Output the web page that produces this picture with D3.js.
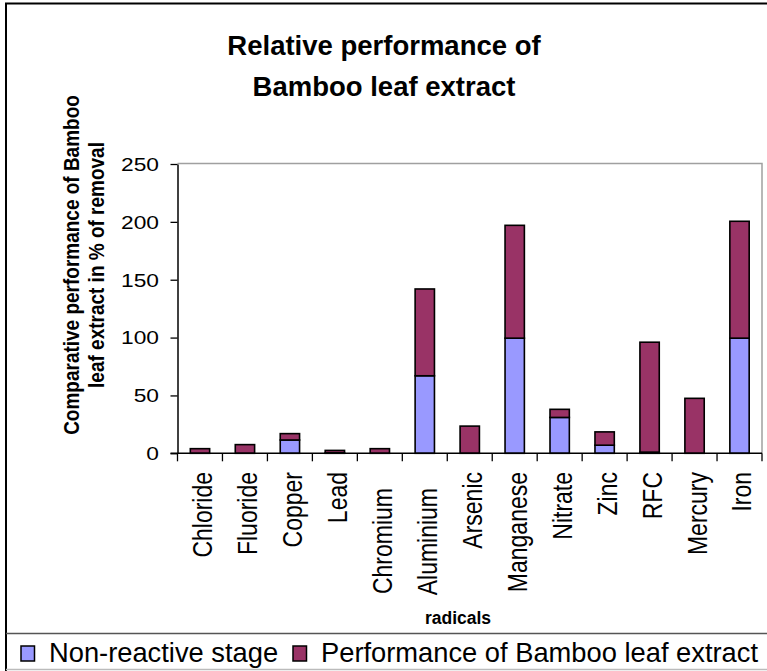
<!DOCTYPE html>
<html>
<head>
<meta charset="utf-8">
<script src="https://cdn.jsdelivr.net/npm/d3@7"></script>
<style>
  html, body { margin: 0; padding: 0; background: #fff; }
  svg { display: block; font-family: "Liberation Sans", Arial, sans-serif; }
</style>
</head>
<body>
<svg id="chart" width="767" height="671"></svg>
<script>
// ---- data ----
const categories = ["Chloride","Fluoride","Copper","Lead","Chromium","Aluminium","Arsenic","Manganese","Nitrate","Zinc","RFC","Mercury","Iron"];
const nonReactive = [0, 0, 11.5, 0.5, 0, 67, 0, 99.5, 31, 7, 1, 0, 99.5];
const performance = [4, 7.5, 5.5, 2, 4, 75, 23.5, 97.5, 7, 11.5, 95, 47.5, 101];
const seriesNames = ["Non-reactive stage", "Performance of Bamboo leaf extract"];
const yTicks = [0, 50, 100, 150, 200, 250];
const titleLines = ["Relative performance of", "Bamboo leaf extract"];
const yTitleLines = ["Comparative performance of Bamboo", "leaf extract in % of removal"];
const xTitle = "radicals";

// ---- styles ----
const colors = ["#9999FF", "#993366"];
const svg = d3.select("#chart");
svg.append("rect").attr("width", 767).attr("height", 671).attr("fill", "#fff");

// outer chart border
svg.append("rect").attr("x", 6).attr("y", 3.5).attr("width", 800).attr("height", 700)
  .attr("fill", "none").attr("stroke", "#000").attr("stroke-width", 2);

const plot = { left: 177.5, right: 762, top: 164, bottom: 453.3 };

const x = d3.scaleBand().domain(categories).range([plot.left, plot.right]).padding(0);
const y = d3.scaleLinear().domain([0, 250]).range([plot.bottom, plot.top]);

// plot area border (top & right)
svg.append("path")
  .attr("d", `M${plot.left},${plot.top - 0.5}H${plot.right}V${plot.bottom}`)
  .attr("fill", "none").attr("stroke", "#a0a0a0").attr("stroke-width", 1.5);

// stacked data
const stackData = categories.map((c, i) => ({ cat: c, s0: nonReactive[i], s1: performance[i] }));
const stack = d3.stack().keys(["s0", "s1"])(stackData);

const barW = x.bandwidth() * 0.43;
svg.append("g").selectAll("g").data(stack).join("g")
  .attr("fill", (d, i) => colors[i])
  .selectAll("rect").data(d => d).join("rect")
  .filter(d => d[1] - d[0] > 0)
  .attr("x", d => x(d.data.cat) + (x.bandwidth() - barW) / 2)
  .attr("y", d => y(d[1]))
  .attr("width", barW)
  .attr("height", d => y(d[0]) - y(d[1]))
  .attr("stroke", "#000").attr("stroke-width", 1.6);

// y axis
const yAxis = svg.append("g").attr("transform", `translate(${plot.left},0)`)
  .call(d3.axisLeft(y).tickValues(yTicks).tickSize(7).tickSizeOuter(0));
yAxis.select(".domain").attr("stroke", "#000").attr("stroke-width", 1.5);
yAxis.selectAll(".tick line").attr("stroke", "#000").attr("stroke-width", 1.3);
const ySX = 1.3;
yAxis.selectAll(".tick text")
  .attr("font-size", 17.5).attr("fill", "#000")
  .attr("font-family", "Liberation Sans, Arial, sans-serif")
  .attr("x", -18.5 / ySX).attr("dy", "0.36em")
  .attr("transform", `scale(${ySX},1)`);

// x axis
const xAxisG = svg.append("g").attr("transform", `translate(0,${plot.bottom})`);
xAxisG.append("line").attr("x1", plot.left - 7).attr("x2", plot.right)
  .attr("stroke", "#000").attr("stroke-width", 1.5);
const boundaries = categories.map(c => x(c)).concat([plot.right]);
xAxisG.selectAll("line.tk").data(boundaries).join("line").attr("class", "tk")
  .attr("x1", d => d).attr("x2", d => d).attr("y1", 0).attr("y2", 8)
  .attr("stroke", "#000").attr("stroke-width", 1.3);

// category labels (rotated)
const labelShift = { "Chromium": 16, "Aluminium": 16 };
const catSX = 1.2;
svg.append("g").selectAll("text").data(categories).join("text")
  .attr("transform", d => `translate(${x(d) + x.bandwidth() / 2 + 2},${472 + (labelShift[d] || 0)}) rotate(-90) scale(1,${catSX})`)
  .attr("text-anchor", "end").attr("dy", "0.36em")
  .attr("font-size", 23).attr("fill", "#000")
  .text(d => d);

// title
svg.append("g").selectAll("text").data(titleLines).join("text")
  .attr("x", 384).attr("y", (d, i) => 55 + i * 41)
  .attr("text-anchor", "middle").attr("font-weight", "bold")
  .attr("font-size", 27.5).attr("fill", "#000")
  .text(d => d);

// y axis title
const ytSX = 1.2;
svg.append("g").selectAll("text").data(yTitleLines).join("text")
  .attr("transform", (d, i) => `translate(${71 + i * 24.5},265) rotate(-90) scale(1,${ytSX})`)
  .attr("text-anchor", "middle").attr("dy", "0.36em")
  .attr("font-weight", "bold").attr("font-size", 19).attr("fill", "#000")
  .text(d => d);

// x axis title
svg.append("text").attr("x", 458).attr("y", 624)
  .attr("text-anchor", "middle").attr("font-weight", "bold")
  .attr("font-size", 17.5).attr("fill", "#000").text(xTitle);

// legend
svg.append("line").attr("x1", 6).attr("x2", 767).attr("y1", 633.5).attr("y2", 633.5)
  .attr("stroke", "#555").attr("stroke-width", 1.5);
svg.append("line").attr("x1", 6).attr("x2", 767).attr("y1", 669.5).attr("y2", 669.5)
  .attr("stroke", "#bbb").attr("stroke-width", 1.5);
const legendX = [21, 293];
const lg = svg.append("g").selectAll("g").data(seriesNames).join("g")
  .attr("transform", (d, i) => `translate(${legendX[i]},646)`);
lg.append("rect").attr("width", 13.5).attr("height", 15)
  .attr("fill", (d, i) => colors[i]).attr("stroke", "#000").attr("stroke-width", 1.5);
lg.append("text").attr("x", 28).attr("y", 15.5)
  .attr("font-size", 27.3).attr("fill", "#000").text(d => d);
</script>
</body>
</html>
